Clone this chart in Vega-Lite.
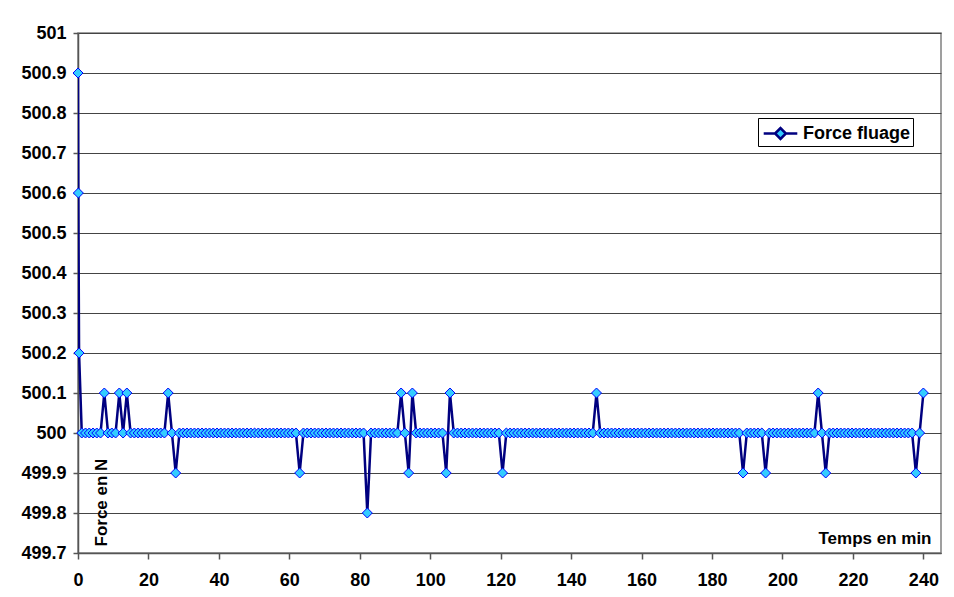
{
  "$schema": "https://vega.github.io/schema/vega-lite/v6.json",
  "width": 863,
  "height": 520,
  "autosize": "none",
  "padding": {"left": 78, "top": 33, "right": 13, "bottom": 44},
  "background": "white",
  "config": {
    "font": "Liberation Sans",
    "view": {"stroke": "#808080", "strokeWidth": 1.5},
    "axis": {"labelFont": "Liberation Sans", "titleFont": "Liberation Sans", "labelFontWeight": "bold", "titleFontWeight": "bold", "labelColor": "black", "titleColor": "black"}
  },
  "data": {"values": [
    {"t": 0, "f": 500.9}, {"t": 0.1, "f": 500.6}, {"t": 0.3, "f": 500.2},
    {"t": 1.07, "f": 500}, {"t": 2.13, "f": 500}, {"t": 3.2, "f": 500}, {"t": 4.27, "f": 500}, {"t": 5.33, "f": 500}, {"t": 6.4, "f": 500}, {"t": 7.47, "f": 500.1}, {"t": 8.53, "f": 500}, {"t": 9.6, "f": 500}, {"t": 10.67, "f": 500}, {"t": 11.73, "f": 500.1}, {"t": 12.8, "f": 500}, {"t": 13.87, "f": 500.1}, {"t": 14.93, "f": 500}, {"t": 16, "f": 500},
    {"t": 17.07, "f": 500}, {"t": 18.13, "f": 500}, {"t": 19.2, "f": 500}, {"t": 20.27, "f": 500}, {"t": 21.33, "f": 500}, {"t": 22.4, "f": 500}, {"t": 23.47, "f": 500}, {"t": 24.53, "f": 500}, {"t": 25.6, "f": 500.1}, {"t": 26.67, "f": 500}, {"t": 27.73, "f": 499.9}, {"t": 28.8, "f": 500}, {"t": 29.87, "f": 500}, {"t": 30.93, "f": 500}, {"t": 32, "f": 500},
    {"t": 33.07, "f": 500}, {"t": 34.13, "f": 500}, {"t": 35.2, "f": 500}, {"t": 36.27, "f": 500}, {"t": 37.33, "f": 500}, {"t": 38.4, "f": 500}, {"t": 39.47, "f": 500}, {"t": 40.53, "f": 500}, {"t": 41.6, "f": 500}, {"t": 42.67, "f": 500}, {"t": 43.73, "f": 500}, {"t": 44.8, "f": 500}, {"t": 45.87, "f": 500}, {"t": 46.93, "f": 500}, {"t": 48, "f": 500},
    {"t": 49.07, "f": 500}, {"t": 50.13, "f": 500}, {"t": 51.2, "f": 500}, {"t": 52.27, "f": 500}, {"t": 53.33, "f": 500}, {"t": 54.4, "f": 500}, {"t": 55.47, "f": 500}, {"t": 56.53, "f": 500}, {"t": 57.6, "f": 500}, {"t": 58.67, "f": 500}, {"t": 59.73, "f": 500}, {"t": 60.8, "f": 500}, {"t": 61.87, "f": 500}, {"t": 62.93, "f": 499.9}, {"t": 64, "f": 500},
    {"t": 65.07, "f": 500}, {"t": 66.13, "f": 500}, {"t": 67.2, "f": 500}, {"t": 68.27, "f": 500}, {"t": 69.33, "f": 500}, {"t": 70.4, "f": 500}, {"t": 71.47, "f": 500}, {"t": 72.53, "f": 500}, {"t": 73.6, "f": 500}, {"t": 74.67, "f": 500}, {"t": 75.73, "f": 500}, {"t": 76.8, "f": 500}, {"t": 77.87, "f": 500}, {"t": 78.93, "f": 500}, {"t": 80, "f": 500},
    {"t": 81.07, "f": 500}, {"t": 82.13, "f": 499.8}, {"t": 83.2, "f": 500}, {"t": 84.27, "f": 500}, {"t": 85.33, "f": 500}, {"t": 86.4, "f": 500}, {"t": 87.47, "f": 500}, {"t": 88.53, "f": 500}, {"t": 89.6, "f": 500}, {"t": 90.67, "f": 500}, {"t": 91.73, "f": 500.1}, {"t": 92.8, "f": 500}, {"t": 93.87, "f": 499.9}, {"t": 94.93, "f": 500.1}, {"t": 96, "f": 500},
    {"t": 97.07, "f": 500}, {"t": 98.13, "f": 500}, {"t": 99.2, "f": 500}, {"t": 100.27, "f": 500}, {"t": 101.33, "f": 500}, {"t": 102.4, "f": 500}, {"t": 103.47, "f": 500}, {"t": 104.53, "f": 499.9}, {"t": 105.6, "f": 500.1}, {"t": 106.67, "f": 500}, {"t": 107.73, "f": 500}, {"t": 108.8, "f": 500}, {"t": 109.87, "f": 500}, {"t": 110.93, "f": 500}, {"t": 112, "f": 500},
    {"t": 113.07, "f": 500}, {"t": 114.13, "f": 500}, {"t": 115.2, "f": 500}, {"t": 116.27, "f": 500}, {"t": 117.33, "f": 500}, {"t": 118.4, "f": 500}, {"t": 119.47, "f": 500}, {"t": 120.53, "f": 499.9}, {"t": 121.6, "f": 500}, {"t": 122.67, "f": 500}, {"t": 123.73, "f": 500}, {"t": 124.8, "f": 500}, {"t": 125.87, "f": 500}, {"t": 126.93, "f": 500}, {"t": 128, "f": 500},
    {"t": 129.07, "f": 500}, {"t": 130.13, "f": 500}, {"t": 131.2, "f": 500}, {"t": 132.27, "f": 500}, {"t": 133.33, "f": 500}, {"t": 134.4, "f": 500}, {"t": 135.47, "f": 500}, {"t": 136.53, "f": 500}, {"t": 137.6, "f": 500}, {"t": 138.67, "f": 500}, {"t": 139.73, "f": 500}, {"t": 140.8, "f": 500}, {"t": 141.87, "f": 500}, {"t": 142.93, "f": 500}, {"t": 144, "f": 500},
    {"t": 145.07, "f": 500}, {"t": 146.13, "f": 500}, {"t": 147.2, "f": 500.1}, {"t": 148.27, "f": 500}, {"t": 149.33, "f": 500}, {"t": 150.4, "f": 500}, {"t": 151.47, "f": 500}, {"t": 152.53, "f": 500}, {"t": 153.6, "f": 500}, {"t": 154.67, "f": 500}, {"t": 155.73, "f": 500}, {"t": 156.8, "f": 500}, {"t": 157.87, "f": 500}, {"t": 158.93, "f": 500}, {"t": 160, "f": 500},
    {"t": 161.07, "f": 500}, {"t": 162.13, "f": 500}, {"t": 163.2, "f": 500}, {"t": 164.27, "f": 500}, {"t": 165.33, "f": 500}, {"t": 166.4, "f": 500}, {"t": 167.47, "f": 500}, {"t": 168.53, "f": 500}, {"t": 169.6, "f": 500}, {"t": 170.67, "f": 500}, {"t": 171.73, "f": 500}, {"t": 172.8, "f": 500}, {"t": 173.87, "f": 500}, {"t": 174.93, "f": 500}, {"t": 176, "f": 500},
    {"t": 177.07, "f": 500}, {"t": 178.13, "f": 500}, {"t": 179.2, "f": 500}, {"t": 180.27, "f": 500}, {"t": 181.33, "f": 500}, {"t": 182.4, "f": 500}, {"t": 183.47, "f": 500}, {"t": 184.53, "f": 500}, {"t": 185.6, "f": 500}, {"t": 186.67, "f": 500}, {"t": 187.73, "f": 500}, {"t": 188.8, "f": 499.9}, {"t": 189.87, "f": 500}, {"t": 190.93, "f": 500}, {"t": 192, "f": 500},
    {"t": 193.07, "f": 500}, {"t": 194.13, "f": 500}, {"t": 195.2, "f": 499.9}, {"t": 196.27, "f": 500}, {"t": 197.33, "f": 500}, {"t": 198.4, "f": 500}, {"t": 199.47, "f": 500}, {"t": 200.53, "f": 500}, {"t": 201.6, "f": 500}, {"t": 202.67, "f": 500}, {"t": 203.73, "f": 500}, {"t": 204.8, "f": 500}, {"t": 205.87, "f": 500}, {"t": 206.93, "f": 500}, {"t": 208, "f": 500},
    {"t": 209.07, "f": 500}, {"t": 210.13, "f": 500.1}, {"t": 211.2, "f": 500}, {"t": 212.27, "f": 499.9}, {"t": 213.33, "f": 500}, {"t": 214.4, "f": 500}, {"t": 215.47, "f": 500}, {"t": 216.53, "f": 500}, {"t": 217.6, "f": 500}, {"t": 218.67, "f": 500}, {"t": 219.73, "f": 500}, {"t": 220.8, "f": 500}, {"t": 221.87, "f": 500}, {"t": 222.93, "f": 500}, {"t": 224, "f": 500},
    {"t": 225.07, "f": 500}, {"t": 226.13, "f": 500}, {"t": 227.2, "f": 500}, {"t": 228.27, "f": 500}, {"t": 229.33, "f": 500}, {"t": 230.4, "f": 500}, {"t": 231.47, "f": 500}, {"t": 232.53, "f": 500}, {"t": 233.6, "f": 500}, {"t": 234.67, "f": 500}, {"t": 235.73, "f": 500}, {"t": 236.8, "f": 500}, {"t": 237.87, "f": 499.9}, {"t": 238.93, "f": 500}, {"t": 240, "f": 500.1}
  ]},
  "encoding": {
    "x": {"field": "t", "type": "quantitative",
      "scale": {"domain": [0, 245], "nice": false, "zero": false},
      "axis": {"title": "Temps en min", "values": [0, 20, 40, 60, 80, 100, 120, 140, 160, 180, 200, 220, 240],
        "grid": false, "domainColor": "#555555", "domainWidth": 1.5, "tickColor": "#555555", "tickSize": 6, "tickWidth": 1.5,
        "labelFontSize": 18, "labelPadding": 12, "labelFlush": false,
        "titleFontSize": 17, "titleAlign": "right", "titleBaseline": "alphabetic", "titleX": 853, "titleY": -10}},
    "y": {"field": "f", "type": "quantitative",
      "scale": {"domain": [499.7, 501], "nice": false, "zero": false},
      "axis": {"title": "Force en N", "values": [499.7, 499.8, 499.9, 500, 500.1, 500.2, 500.3, 500.4, 500.5, 500.6, 500.7, 500.8, 500.9, 501],
        "format": ".6~g", "grid": true, "gridColor": "#444444", "gridWidth": 1,
        "domainColor": "#555555", "domainWidth": 1.5, "tickColor": "#555555", "tickSize": 5, "tickWidth": 1.5,
        "labelFontSize": 18, "labelPadding": 7, "labelFlush": false,
        "titleFontSize": 17, "titleAngle": -90, "titleAlign": "left", "titleBaseline": "alphabetic", "titleX": 28, "titleY": 513}}
  },
  "layer": [
    {
      "mark": {"type": "line", "strokeWidth": 2.5, "clip": true},
      "encoding": {
        "stroke": {"datum": "Force fluage", "type": "nominal",
          "scale": {"range": ["#000080"]},
          "legend": {"title": null, "orient": "none", "legendX": 680, "legendY": 85,
            "fillColor": "white", "strokeColor": "black", "padding": 2,
            "labelFont": "Liberation Sans", "labelFontWeight": "bold", "labelFontSize": 18, "labelColor": "black",
            "symbolType": "M-1.4,0L-0.45,0M0.45,0L1.4,0M-0.45,0L0,-0.45L0.45,0L0,0.45Z",
            "symbolSize": 576, "symbolOffset": 7, "symbolFillColor": "#33CCFF", "symbolStrokeColor": "#000080", "symbolStrokeWidth": 2.5, "labelOffset": 9}}
      }
    },
    {
      "mark": {"type": "point", "shape": "diamond", "size": 100, "filled": true, "fill": "#33CCFF", "stroke": "#0000FF", "strokeWidth": 1, "opacity": 1, "clip": false}
    }
  ]
}
